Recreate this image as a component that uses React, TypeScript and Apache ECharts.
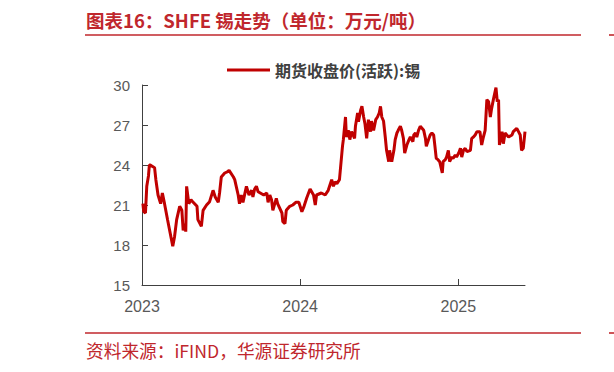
import React, { useEffect, useRef } from "react";
import * as echarts from "echarts";

const titleText = "图表16：SHFE 锡走势（单位：万元/吨）";
const sourceText = "资料来源：iFIND，华源证券研究所";
const seriesName = "期货收盘价(活跃):锡";
const xTickYears = [2023, 2024, 2025];
const yMin = 15;
const yMax = 30;
const yStep = 3;

const dates = [
  "2023-01-03","2023-01-05","2023-01-09","2023-01-12","2023-01-16","2023-01-18","2023-01-20","2023-01-30",
  "2023-02-02","2023-02-07","2023-02-13","2023-02-17","2023-02-22","2023-03-01","2023-03-07","2023-03-13",
  "2023-03-17","2023-03-22","2023-03-29","2023-04-03","2023-04-06","2023-04-10","2023-04-12","2023-04-14",
  "2023-04-19","2023-04-24","2023-04-28","2023-05-08","2023-05-10","2023-05-18","2023-05-22","2023-05-30",
  "2023-06-06","2023-06-14","2023-06-19","2023-06-26","2023-06-29","2023-07-03","2023-07-11","2023-07-18",
  "2023-07-21","2023-07-31","2023-08-03","2023-08-11","2023-08-14","2023-08-18","2023-08-22","2023-08-30",
  "2023-09-05","2023-09-11","2023-09-14","2023-09-18","2023-09-22","2023-09-26","2023-10-09","2023-10-16",
  "2023-10-19","2023-10-23","2023-10-27","2023-10-30","2023-11-07","2023-11-10","2023-11-20","2023-11-22",
  "2023-11-27","2023-11-30","2023-12-08","2023-12-15","2023-12-22","2023-12-29",
  "2024-01-05","2024-01-10","2024-01-16","2024-01-24","2024-02-01","2024-02-05","2024-02-08","2024-02-19",
  "2024-02-28","2024-03-06","2024-03-14","2024-03-18","2024-03-22","2024-03-26","2024-04-01","2024-04-08",
  "2024-04-10","2024-04-15","2024-04-17","2024-04-22","2024-04-25","2024-04-29","2024-05-06","2024-05-08",
  "2024-05-13","2024-05-15","2024-05-20","2024-05-23","2024-05-27","2024-05-30","2024-06-03","2024-06-07",
  "2024-06-12","2024-06-14","2024-06-19","2024-06-24","2024-06-28","2024-07-02","2024-07-05","2024-07-08",
  "2024-07-12","2024-07-16","2024-07-19","2024-07-24","2024-07-26","2024-07-31","2024-08-05","2024-08-08",
  "2024-08-12","2024-08-15","2024-08-20","2024-08-23","2024-08-27","2024-08-30","2024-09-04","2024-09-09",
  "2024-09-12","2024-09-18","2024-09-20","2024-09-24","2024-09-27","2024-10-01","2024-10-05","2024-10-09",
  "2024-10-13","2024-10-17","2024-10-19","2024-10-24","2024-10-28","2024-11-01","2024-11-05","2024-11-08",
  "2024-11-11","2024-11-15","2024-11-19","2024-11-25","2024-11-27","2024-12-02","2024-12-05","2024-12-09",
  "2024-12-12","2024-12-17","2024-12-20","2024-12-25","2024-12-28",
  "2025-01-02","2025-01-06","2025-01-09","2025-01-13","2025-01-17","2025-01-21","2025-01-29","2025-02-01",
  "2025-02-05","2025-02-09","2025-02-13","2025-02-20","2025-02-24","2025-02-28","2025-03-04","2025-03-08",
  "2025-03-12","2025-03-16","2025-03-19","2025-03-23","2025-03-29","2025-04-01","2025-04-04","2025-04-06",
  "2025-04-12","2025-04-15","2025-04-19","2025-04-27","2025-05-05","2025-05-08","2025-05-16","2025-05-20",
  "2025-05-24","2025-05-27","2025-05-31","2025-06-04",
];

const prices = [
  21.1,20.5,20.4,22.4,23.2,24.0,24.0,23.8,
  22.9,21.75,21.1,21.9,21.1,19.9,18.9,17.9,
  18.6,19.9,20.9,20.6,19.1,19.6,19.0,22.4,
  21.1,21.4,21.25,20.9,19.9,19.4,20.6,21.0,
  21.25,22.1,21.6,21.2,21.9,23.1,23.4,23.5,
  23.6,23.1,22.9,21.75,21.1,21.75,21.2,22.4,
  21.75,22.1,21.6,22.2,22.4,22.0,21.75,21.9,
  21.2,21.75,21.4,20.6,21.5,21.1,20.4,19.75,
  19.6,20.6,20.9,21.0,21.2,21.2,
  20.5,20.9,21.5,22.2,21.75,21.0,21.75,21.9,
  21.75,22.1,22.9,22.4,22.75,22.6,22.9,25.4,
  25.9,27.6,26.1,26.6,25.9,26.5,26.0,26.9,
  27.9,27.25,28.1,28.4,27.6,27.1,26.0,27.4,
  26.5,27.3,26.6,27.4,27.6,27.9,28.4,27.6,
  27.3,26.1,25.1,24.25,25.1,24.25,25.1,25.9,
  26.4,26.6,26.9,26.6,26.0,24.9,25.5,25.9,
  26.1,25.75,26.25,26.4,26.1,26.6,26.9,26.75,
  26.6,26.0,25.4,25.9,26.25,26.4,26.25,25.4,
  24.5,24.4,24.25,23.4,24.25,24.4,24.6,25.1,
  24.25,24.6,24.5,24.75,24.6,
  24.9,25.25,24.6,25.1,25.25,25.0,25.1,26.0,
  26.1,26.25,26.5,26.5,25.5,26.1,26.6,28.9,
  28.75,27.6,28.25,28.9,29.8,28.75,28.9,25.5,
  26.5,25.6,26.4,26.1,26.25,26.5,26.75,26.5,
  26.25,25.1,25.25,26.5,
];

function fracYear(s: string): number {
  const t = Date.parse(s + "T00:00:00Z");
  const y = new Date(t).getUTCFullYear();
  const start = Date.UTC(y, 0, 1);
  const len = Date.UTC(y + 1, 0, 1) - start;
  return y + (t - start) / len;
}

const RED = "#C0272D";
const AXIS = "#404040";
const LABEL = "#595959";

export default function App() {
  const ref = useRef<HTMLDivElement>(null);
  useEffect(() => {
    if (!ref.current) return;
    const chart = echarts.init(ref.current, null, { renderer: "svg" });
    const data = dates.map((d, i) => [fracYear(d), prices[i]]);
    const xMax = fracYear(dates[dates.length - 1]);
    chart.setOption({
      animation: false,
      backgroundColor: "#ffffff",
      grid: { left: 142, right: 89, top: 85, bottom: 87 },
      legend: {
        left: 222,
        top: 57,
        icon: "rect",
        itemWidth: 43,
        itemHeight: 3,
        itemGap: 10,
        textStyle: {
          fontFamily: "'Noto Sans CJK SC', sans-serif",
          fontSize: 16,
          fontWeight: "bold",
          color: "#404040",
        },
        data: [seriesName],
      },
      xAxis: {
        type: "value",
        min: xTickYears[0],
        max: xMax,
        interval: 1,
        splitLine: { show: false },
        axisLine: { show: true, lineStyle: { color: AXIS, width: 1 } },
        axisTick: { show: true, inside: true, length: 6, lineStyle: { color: AXIS }, customValues: xTickYears },
        axisLabel: {
          customValues: xTickYears,
          formatter: (v: number) => String(Math.round(v)),
          fontFamily: "'Liberation Sans', Arial, sans-serif",
          fontSize: 16,
          color: LABEL,
          margin: 13,
        },
      },
      yAxis: {
        type: "value",
        min: yMin,
        max: yMax,
        interval: yStep,
        splitLine: { show: false },
        axisLine: { show: true, lineStyle: { color: AXIS, width: 1 } },
        axisTick: { show: true, inside: true, length: 6, lineStyle: { color: AXIS } },
        axisLabel: {
          fontFamily: "'Liberation Sans', Arial, sans-serif",
          fontSize: 15,
          color: LABEL,
          margin: 12,
        },
      },
      series: [
        {
          name: seriesName,
          type: "line",
          data,
          showSymbol: false,
          symbol: "none",
          lineStyle: { color: "#C00000", width: 3 },
          itemStyle: { color: "#C00000" },
        },
      ],
      graphic: [
        {
          type: "text",
          left: 86,
          top: 11,
          style: {
            text: titleText,
            fill: RED,
            font: "bold 18.5px 'Noto Sans CJK SC', sans-serif",
          },
        },
        {
          type: "line",
          shape: { x1: 85, y1: 35, x2: 581, y2: 35 },
          style: { stroke: RED, lineWidth: 1.6 },
        },
        {
          type: "line",
          shape: { x1: 609, y1: 35, x2: 614, y2: 35 },
          style: { stroke: RED, lineWidth: 1.6 },
        },
        {
          type: "line",
          shape: { x1: 85, y1: 333, x2: 581, y2: 333 },
          style: { stroke: RED, lineWidth: 1.6 },
        },
        {
          type: "line",
          shape: { x1: 609, y1: 333, x2: 614, y2: 333 },
          style: { stroke: RED, lineWidth: 1.6 },
        },
        {
          type: "text",
          left: 86,
          top: 341,
          style: {
            text: sourceText,
            fill: RED,
            font: "17.7px 'Noto Sans CJK SC', sans-serif",
          },
        },
      ],
    });
    return () => chart.dispose();
  }, []);
  return (
    <div
      ref={ref}
      style={{ position: "fixed", left: 0, top: 0, width: 614, height: 372, background: "#fff" }}
    />
  );
}
